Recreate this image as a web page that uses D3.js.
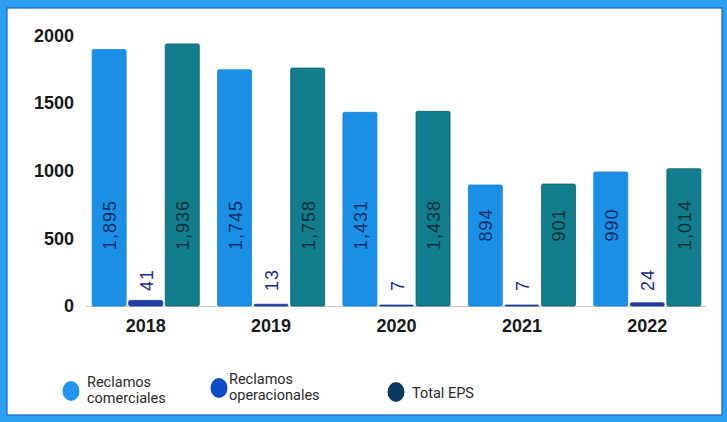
<!DOCTYPE html>
<html>
<head>
<meta charset="utf-8">
<script src="https://cdn.jsdelivr.net/npm/d3@7"></script>
<style>
  html, body { margin: 0; padding: 0; background: #fff; }
  svg { display: block; }
</style>
</head>
<body>
<svg id="chart" width="727" height="422"></svg>
<script>
// ---- data ----
const years = ["2018", "2019", "2020", "2021", "2022"];
const seriesNames = ["Reclamos comerciales", "Reclamos operacionales", "Total EPS"];
const comerciales = [1895, 1745, 1431, 894, 990];
const operacionales = [41, 13, 7, 7, 24];
const totalEPS = [1936, 1758, 1438, 901, 1014];
const yTicks = [0, 500, 1000, 1500, 2000];

const seriesValues = [comerciales, operacionales, totalEPS];
const barColors = ["#1a8fe6", "#1f3fa8", "#127d8c"];
const barStroke = ["#1784d6", "#1a3590", "#0e5e6b"];
const labelColors = ["#0d2f66", "#1a2a8a", "#10323a"];
const legendColors = ["#2196f0", "#0b4fc6", "#0b3a60"];

const svg = d3.select("#chart");
const W = 727, H = 422;

// frame
svg.append("rect").attr("x", 0).attr("y", 0).attr("width", W).attr("height", H).attr("fill", "#2d9ff0");
svg.append("rect").attr("x", 7).attr("y", 8).attr("width", 715).attr("height", 407)
  .attr("fill", "#ffffff").attr("stroke", "#1766c8").attr("stroke-width", 1.2);

const x0 = d3.scaleBand().domain(years).range([83, 710]).padding(0);
const x1 = d3.scaleBand().domain(seriesNames).range([0, x0.bandwidth()])
  .paddingInner(0.07).paddingOuter(0.25);
const y = d3.scaleLinear().domain([0, 2000]).range([306, 35.3]);
const fmt = d3.format(",");

// baseline
svg.append("line").attr("x1", 86).attr("x2", 706).attr("y1", y(0) + 0.5).attr("y2", y(0) + 0.5)
  .attr("stroke", "#c8c8c8").attr("stroke-width", 1);

// y axis
const yAxis = svg.append("g").attr("transform", "translate(76,0)")
  .call(d3.axisLeft(y).tickValues(yTicks).tickSize(0).tickPadding(2).tickFormat(d => String(d)));
yAxis.select(".domain").remove();
yAxis.selectAll("text").attr("font-family", "Liberation Sans, Arial, sans-serif")
  .attr("font-size", 18).attr("font-weight", "bold").attr("fill", "#1a1a1a");

// x axis
const xAxis = svg.append("g").attr("transform", `translate(0,${y(0)})`)
  .call(d3.axisBottom(x0).tickSize(0).tickPadding(13));
xAxis.select(".domain").remove();
xAxis.selectAll("text").attr("font-family", "Liberation Sans, Arial, sans-serif")
  .attr("font-size", 18).attr("font-weight", "bold").attr("fill", "#1a1a1a");

// bars
const rows = [];
years.forEach((yr, i) => {
  seriesNames.forEach((s, j) => {
    rows.push({ year: yr, series: s, j: j, value: seriesValues[j][i] });
  });
});

const gBars = svg.append("g");
gBars.selectAll("rect").data(rows).join("rect")
  .attr("x", d => x0(d.year) + x1(d.series))
  .attr("y", d => y(d.value))
  .attr("width", x1.bandwidth())
  .attr("height", d => y(0) - y(d.value))
  .attr("rx", 1.5)
  .attr("fill", d => barColors[d.j])
  .attr("stroke", d => barStroke[d.j])
  .attr("stroke-width", 0.8);

// value labels
const gLab = svg.append("g");
gLab.selectAll("text").data(rows).join("text")
  .attr("transform", d => {
    const cx = x0(d.year) + x1(d.series) + x1.bandwidth() / 2 + 1;
    const cy = d.j === 1 ? 291 : 225;
    return `translate(${cx},${cy}) rotate(-90)`;
  })
  .attr("text-anchor", d => d.j === 1 ? "start" : "middle")
  .attr("dominant-baseline", "central")
  .attr("font-family", "Liberation Sans, Arial, sans-serif")
  .attr("font-size", 18)
  .attr("letter-spacing", 1)
  .attr("fill", d => labelColors[d.j])
  .text(d => fmt(d.value));

// legend
const legendItems = [
  { lines: ["Reclamos", "comerciales"], cx: 71, cy: 391, tx: 87, ty: 382 },
  { lines: ["Reclamos", "operacionales"], cx: 219, cy: 388, tx: 229, ty: 379 },
  { lines: ["Total EPS"], cx: 396, cy: 392, tx: 412, ty: 393 }
];
const gLeg = svg.append("g");
legendItems.forEach((it, i) => {
  gLeg.append("ellipse").attr("cx", it.cx).attr("cy", it.cy).attr("rx", 8.5).attr("ry", 10)
    .attr("fill", legendColors[i]);
  it.lines.forEach((ln, k) => {
    gLeg.append("text").attr("x", it.tx).attr("y", it.ty + k * 16.5)
      .attr("font-family", "Roboto, Noto Sans, sans-serif")
      .attr("font-size", 14.5).attr("fill", "#2a2a2a")
      .attr("dominant-baseline", "central")
      .text(ln);
  });
});
</script>
</body>
</html>
